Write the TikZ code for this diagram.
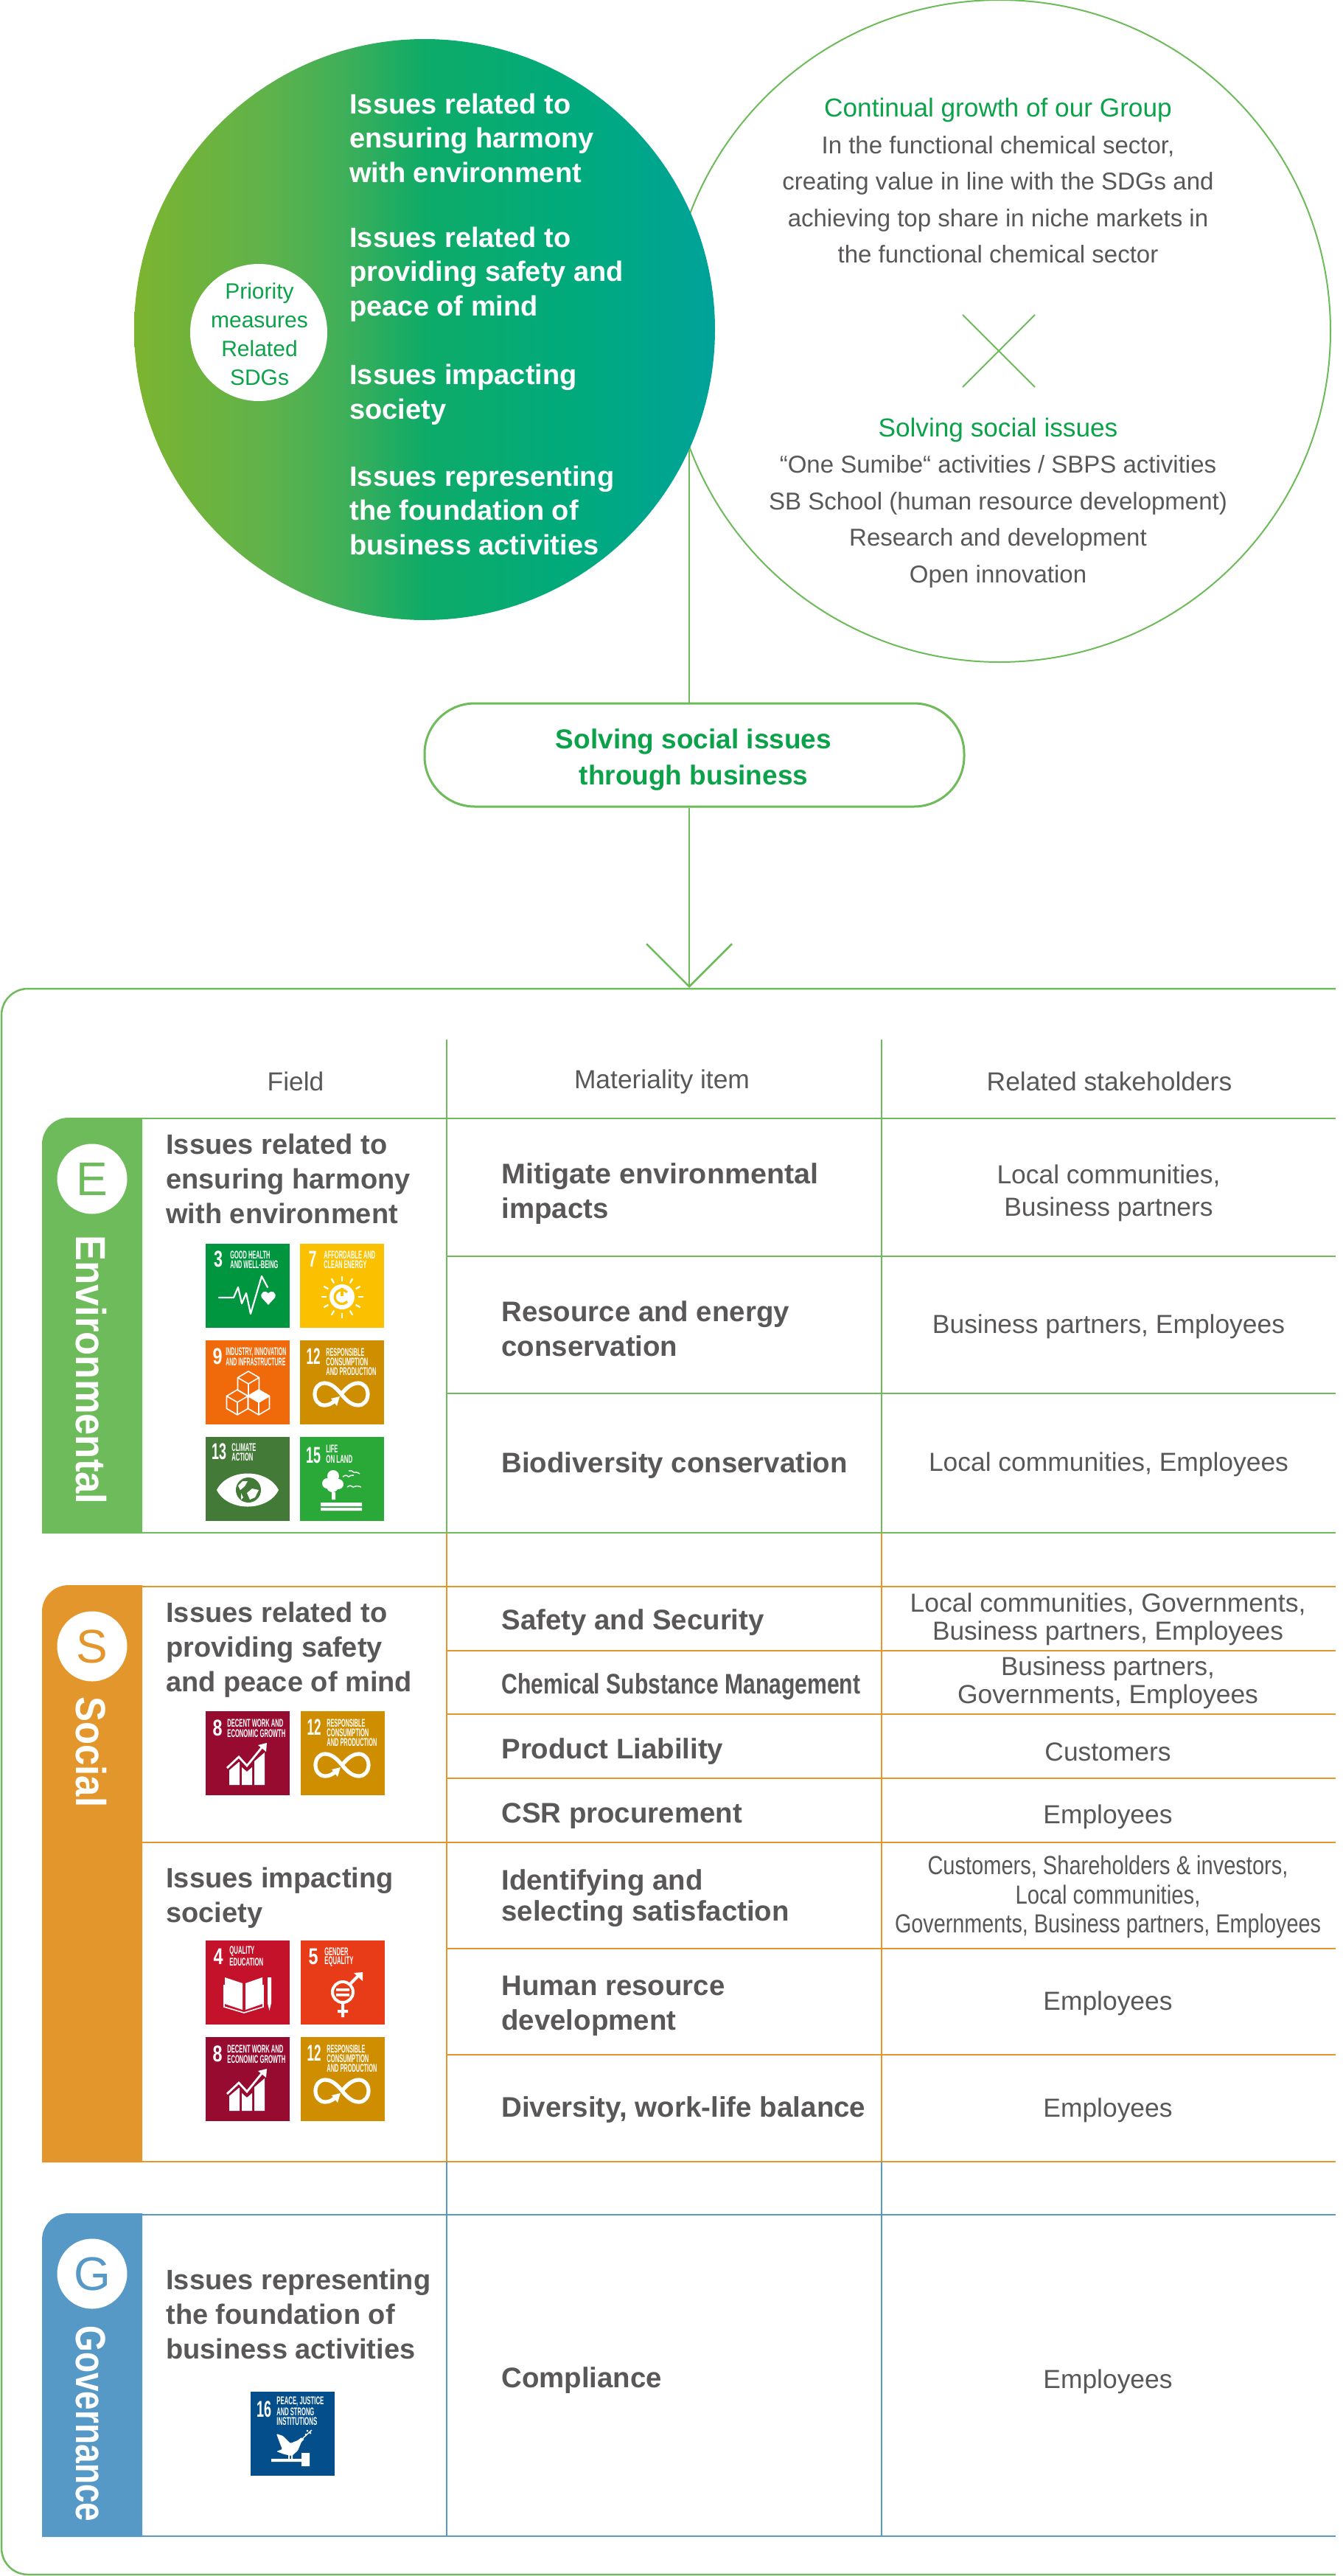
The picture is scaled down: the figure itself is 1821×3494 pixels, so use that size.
\documentclass[tikz,border=0pt]{standalone}
\usepackage{fontspec}
\usepackage{graphicx}
\setmainfont{Liberation Sans}
\usetikzlibrary{arrows.meta}
\definecolor{lgreen}{HTML}{6DBB5A}
\definecolor{tgreen}{HTML}{0BA24A}
\definecolor{gorange}{HTML}{E3962C}
\definecolor{gblue}{HTML}{5698C6}
\definecolor{tgray}{HTML}{595757}
\definecolor{sThree}{HTML}{00963F}
\definecolor{sSeven}{HTML}{FBC100}
\definecolor{sNine}{HTML}{F0690A}
\definecolor{sTwelve}{HTML}{CF8D00}
\definecolor{sThirteen}{HTML}{437A37}
\definecolor{sFifteen}{HTML}{2AA838}
\definecolor{sEight}{HTML}{970B31}
\definecolor{sFour}{HTML}{C5122B}
\definecolor{sFive}{HTML}{E83C18}
\definecolor{sSixteen}{HTML}{044F8B}
\pgfdeclarehorizontalshading{priorshade}{100bp}{rgb(0bp)=(.486,.706,.184); rgb(25bp)=(.486,.706,.184); rgb(36.5bp)=(.373,.698,.294); rgb(43bp)=(.247,.686,.349); rgb(50bp)=(.055,.671,.408); rgb(63.5bp)=(0,.667,.490); rgb(75bp)=(0,.635,.604); rgb(100bp)=(0,.635,.604)}
% width-fitted text: #1 is the width in reference pixels
\newcommand{\fw}[2]{\resizebox{\dimexpr #1pt/2\relax}{\height}{#2}}
\newcount\sdgcount
\newcommand{\sdgtxt}[4]{\global\advance\sdgcount by 1 \node[sdgtext] (sdgt\the\sdgcount) at (#1,#2) {\fw{#3}{#4}};}
\newcommand{\sdgnum}[4]{\global\advance\sdgcount by 1 \node[sdgnumber] (sdgn\the\sdgcount) at (#1,#2) {\fw{#3}{#4}};}
\newcommand{\sdgbox}[4]{\begin{scope}[shift={(#1,#2)}]\fill[#3] (0,0) rectangle (114,114); #4\end{scope}}
\newcommand{\iconThree}{%
 \sdgnum{17}{21}{12}{3}\sdgtxt{33}{15}{54}{GOOD HEALTH}\sdgtxt{33}{28}{65}{AND WELL-BEING}%
 \draw[iconline] (18,73) -- (38,73) -- (44,59) -- (49,81) -- (55,67) -- (61,95) -- (76,44) -- (84,59);
 \fill[white] (85,83) -- (76,73) .. controls (73,66) and (81,62) .. (85,67) .. controls (89,62) and (97,66) .. (94,73) -- cycle;}
\newcommand{\iconSeven}{%
 \sdgnum{17}{21}{11}{7}\sdgtxt{32}{15}{70}{AFFORDABLE AND}\sdgtxt{32}{28}{58}{CLEAN ENERGY}%
 \fill[white] (57,72) circle[radius=17];
 \draw[line width=1.6pt,sSeven] (64,66) arc[start angle=-40,end angle=-320,radius=9.5];
 \draw[line width=1.6pt,sSeven] (57,60) -- (57,71);
 \foreach \a in {0,30,...,330}{\draw[iconline,line cap=butt] (57,72) ++(\a:21.5) -- ++(\a:7);}}
\newcommand{\cube}[2]{\begin{scope}[shift={(#1,#2)}]
 \draw[line width=.8pt,white,line join=round] (0,-17) -- (14.5,-8.5) -- (14.5,8.5) -- (0,17) -- (-14.5,8.5) -- (-14.5,-8.5) -- cycle
 (-14.5,-8.5) -- (0,0) -- (14.5,-8.5) (0,0) -- (0,17);\end{scope}}
\newcommand{\iconNine}{%
 \sdgnum{16}{22}{13}{9}\sdgtxt{27}{16}{82}{INDUSTRY, INNOVATION}\sdgtxt{27}{29}{81}{AND INFRASTRUCTURE}%
 \cube{58}{59}\cube{43}{84}\cube{72}{84}
 \fill[white] (72,67) -- (86.5,75.5) -- (72,84) -- (57.5,75.5) -- cycle;}
\newcommand{\iconTwelve}{%
 \sdgnum{18}{22}{19}{12}\sdgtxt{35}{16}{52}{RESPONSIBLE}\sdgtxt{35}{29}{57}{CONSUMPTION}\sdgtxt{35}{42}{68}{AND PRODUCTION}%
 \draw[line width=2.6pt,white] (46,83) .. controls (41,87) and (37,88) .. (33,88) .. controls (25,88) and (20,81) .. (20,73) .. controls (20,65) and (25,58) .. (33,58) .. controls (41,58) and (48,63) .. (56,73) .. controls (64,83) and (71,88) .. (79,88) .. controls (87,88) and (92,81) .. (92,73) .. controls (92,65) and (87,58) .. (79,58) .. controls (71,58) and (64,63) .. (56,73);
 \fill[white] (42,79) -- (54,76) -- (50,89) -- cycle;}
\newcommand{\iconThirteen}{%
 \sdgnum{18}{20}{20}{13}\sdgtxt{35}{14}{33}{CLIMATE}\sdgtxt{35}{27}{29}{ACTION}%
 \fill[white] (15,72) .. controls (30,42) and (84,42) .. (99,72) .. controls (84,102) and (30,102) .. (15,72) -- cycle;
 \fill[sThirteen] (58,72) circle[radius=17];
 \fill[white] (44,66) -- (50,60) -- (57,60) -- (53,67) -- (47,72) -- cycle (56,76) -- (63,70) -- (72,72) -- (67,82) -- (60,85) -- cycle (48,76) -- (51,82) -- (48,85) -- cycle;}
\newcommand{\iconFifteen}{%
 \sdgnum{18}{25}{20}{15}\sdgtxt{35}{16}{16}{LIFE}\sdgtxt{35}{30}{36}{ON LAND}%
 \fill[white] (37,63) circle[radius=7] (45,53) circle[radius=8] (52,64) circle[radius=7] (44,67) circle[radius=8] (43,75) rectangle (48,85) (28,89) rectangle (84,94) (28,96) rectangle (84,100);
 \draw[line width=.7pt,white] (58,54) .. controls (62,51) and (64,52) .. (66,54) .. controls (68,52) and (70,52) .. (73,52) (66,46) .. controls (69,45) and (71,46) .. (73,48) .. controls (75,47) and (78,48) .. (81,50) (64,68) .. controls (68,65) and (70,66) .. (72,68) .. controls (75,66) and (78,66) .. (83,68);}
\newcommand{\iconEight}{%
 \sdgnum{16}{23}{13}{8}\sdgtxt{29}{16}{76}{DECENT WORK AND}\sdgtxt{29}{30}{79}{ECONOMIC GROWTH}%
 \fill[white] (32,100) -- (32,80) -- (45,69) -- (46,69) -- (46,100) -- cycle (49,100) -- (49,76) -- (56,82) -- (63,76) -- (63,100) -- cycle (66,100) -- (66,68) -- (80,56) -- (80,100) -- cycle;
 \draw[line width=1.4pt,white] (29,77) -- (45,62) -- (56,74) -- (78,47);
 \fill[white] (71,46) -- (83,43) -- (82,55) -- cycle;}
\newcommand{\iconFour}{%
 \sdgnum{17}{22}{13}{4}\sdgtxt{32}{15}{34}{QUALITY}\sdgtxt{32}{29}{46}{EDUCATION}%
 \fill[white] (26,50) -- (50,58) -- (50,94) -- (26,86) -- cycle (54,58) -- (77,50) -- (77,86) -- (54,94) -- cycle (84,50) -- (89,50) -- (89,85) -- (86.5,95) -- (84,85) -- cycle;
 \draw[line width=.8pt,white] (25,60) -- (25,90) -- (52,98) -- (78,90) -- (78,60);}
\newcommand{\iconFive}{%
 \sdgnum{17}{22}{13}{5}\sdgtxt{32}{15}{32}{GENDER}\sdgtxt{32}{29}{39}{EQUALITY}%
 \draw[line width=2pt,white] (57,70) circle[radius=14] (57,84) -- (57,104) (50,96) -- (64,96) (66,60) -- (79,47);
 \fill[white] (72,44) -- (84,43) -- (84,55) -- cycle (48,65) rectangle (66,68.5) (48,72) rectangle (66,75.5);}
\newcommand{\iconSixteen}{%
 \sdgnum{18}{24}{20}{16}\sdgtxt{35}{13}{64}{PEACE, JUSTICE}\sdgtxt{35}{27}{51}{AND STRONG}\sdgtxt{35}{40}{55}{INSTITUTIONS}%
 \fill[white,rounded corners=.6pt] (35,57) -- (44,60) -- (54,70) -- (64,66) -- (69,62) -- (73,64) -- (69,68) -- (64,80) -- (56,87) -- (46,85) -- (35,81) -- (43,78) -- (39,68) -- cycle;
 \draw[line width=.7pt,white] (71,63) -- (83,52);
 \fill[white] (77,53) circle[radius=1.5] (81,56) circle[radius=1.5] (75,58) circle[radius=1.5];
 \fill[white] (28,91) rectangle (70,95) (51,86) rectangle (53,91) (55,86) rectangle (57,91) (69,83) rectangle (80,101);}
\tikzset{
 x=.5pt,y=-.5pt,
 sdgtext/.style={inner sep=0pt,anchor=west,text=white,font=\bfseries\fontsize{7.6}{8}\selectfont},
 sdgnumber/.style={inner sep=0pt,anchor=center,text=white,font=\bfseries\fontsize{15.5}{16}\selectfont},
 iconline/.style={line width=1.1pt,white,line join=round,line cap=round},
 bigline/.style={line width=1.25pt,draw=lgreen},
 whitehead/.style={inner sep=0pt,anchor=west,align=left,text=white,font=\bfseries\fontsize{19}{23.25}\selectfont},
 incircle/.style={inner sep=0pt,anchor=center,align=center,text=tgray,font=\fontsize{16.5}{24.75}\selectfont},
 prio/.style={inner sep=0pt,anchor=center,align=center,text=tgreen,font=\fontsize{15}{19.5}\selectfont},
 pilltext/.style={inner sep=0pt,anchor=center,align=center,text=tgreen,font=\bfseries\fontsize{18.5}{24.5}\selectfont},
 headcell/.style={inner sep=0pt,anchor=center,yshift=-1.5pt,text=tgray,font=\fontsize{17.7}{20}\selectfont},
 fieldcell/.style={inner sep=0pt,anchor=west,align=left,text=tgray,font=\bfseries\fontsize{19}{23.5}\selectfont},
 itemcell/.style={inner sep=0pt,anchor=west,align=left,yshift=-2pt,text=tgray,font=\bfseries\fontsize{19.2}{23.4}\selectfont},
 holdercell/.style={inner sep=0pt,anchor=center,align=center,yshift=-1pt,text=tgray,font=\fontsize{17.7}{19}\selectfont},
 bandtitle/.style={inner sep=0pt,anchor=base west,rotate=-90,text=white,font=\bfseries\fontsize{28.5}{30}\selectfont},
 bandletter/.style={circle,fill=white,minimum size=47.5pt,inner sep=0pt,font=\fontsize{32}{34}\selectfont},
 gridline/.style={line width=1.25pt},
}
\begin{document}
\begin{tikzpicture}
\useasboundingbox (0,0) rectangle (1821,3494);
\fill[white] (0,0) rectangle (1821,3494);
% top circles
\node[circle,draw=lgreen,line width=1pt,fill=white,minimum size=449pt,inner sep=0pt] (growth) at (1356,449) {};
\node[circle,shading=priorshade,minimum size=394pt,inner sep=0pt] (priority) at (576,447) {};
\node[circle,fill=white,minimum size=93pt,inner sep=0pt] (hub) at (351,451) {};
\node[prio] (hubtext) at (352,453) {Priority\\measures\\Related\\SDGs};
\node[whitehead] (p1) at (474,187) {Issues related to\\ensuring harmony\\with environment};
\node[whitehead] (p2) at (474,372) {Issues related to\\providing safety and\\peace of mind};
\node[whitehead] (p3) at (474,535) {Issues impacting\\society};
\node[whitehead] (p4) at (474,692) {Issues representing\\the foundation of\\business activities};
\node[incircle] (g1) at (1354,245) {\textcolor{tgreen}{\fontsize{17.6}{24.75}\selectfont Continual growth of our Group}\\In the functional chemical sector,\\creating value in line with the SDGs and\\achieving top share in niche markets in\\the functional chemical sector};
\coordinate (xa) at (1306,427); \coordinate (xb) at (1404,525);
\coordinate (xc) at (1404,427); \coordinate (xd) at (1306,525);
\draw[lgreen,line width=1pt] (xa) -- (xb) (xc) -- (xd);
\node[incircle] (g2) at (1354,682) {\textcolor{tgreen}{\fontsize{17.6}{24.75}\selectfont Solving social issues}\\“One Sumibe“ activities / SBPS activities\\SB School (human resource development)\\Research and development\\Open innovation};
% pill and connectors
\node[draw=lgreen,line width=1.5pt,fill=white,rounded corners=34pt,minimum width=366pt,minimum height=70pt,inner sep=0pt] (pill) at (942,1024) {};
\node[pilltext] (pilltxt) at (941,1031) {Solving social issues\\through business};
\coordinate (join) at (935,610);
\coordinate (tip) at (935,1340);
\draw[bigline] (join) -- (join |- pill.north);
\draw[bigline,-{Straight Barb[length=29pt,width=58pt,line width=1.25pt]}] (tip |- pill.south) -- (tip);
% outer frame
\coordinate (fa) at (1812,1341); \coordinate (fb) at (1812,3492);
\draw[bigline] (fa) -- (38,1341) .. controls (18,1341) and (2,1357) .. (2,1377) -- (2,3456) .. controls (2,3476) and (18,3492) .. (38,3492) -- (fb);
% bands
\fill[lgreen] (193,2080) -- (57,2080) -- (57,1552) .. controls (57,1532) and (73,1516) .. (93,1516) -- (193,1516) -- cycle;
\fill[gorange] (193,2933) -- (57,2933) -- (57,2186) .. controls (57,2166) and (73,2150) .. (93,2150) -- (193,2150) -- cycle;
\fill[gblue] (193,3441) -- (57,3441) -- (57,3038) .. controls (57,3018) and (73,3002) .. (93,3002) -- (193,3002) -- cycle;
% grid
\draw[gridline,lgreen] (606,1410) -- (606,2079) (1196,1410) -- (1196,2079)
 (193,1517) -- (1812,1517) (606,1704) -- (1812,1704) (606,1890) -- (1812,1890) (57,2079) -- (1812,2079);
\draw[gridline,gorange] (606,2079) -- (606,2932) (1196,2079) -- (1196,2932)
 (193,2152) -- (1812,2152) (606,2239) -- (1812,2239) (606,2325) -- (1812,2325) (606,2412) -- (1812,2412)
 (193,2499) -- (1812,2499) (606,2643) -- (1812,2643) (606,2787) -- (1812,2787) (57,2932) -- (1812,2932);
\draw[gridline,gblue] (606,2932) -- (606,3440) (1196,2932) -- (1196,3440)
 (193,3004) -- (1812,3004) (57,3440) -- (1812,3440);
% band labels
\node[bandletter,text=lgreen] (eb) at (125,1599) {E};
\node[bandletter,text=gorange] (sb) at (125,2233) {S};
\node[bandletter,text=gblue] (gb) at (125,3084) {G};
\node[bandtitle] (envt) at (103,1675) {\fw{365}{Environmental}};
\node[bandtitle] (soct) at (103,2301) {\fw{150}{Social}};
\node[bandtitle] (govt) at (103,3154) {\fw{266}{Governance}};
% headers
\node[headcell] (h1) at (401,1464) {Field};
\node[headcell] (h2) at (898,1464) {Materiality item};
\node[headcell] (h3) at (1505,1464) {Related stakeholders};
% field text
\node[fieldcell] (f1) at (225,1599) {Issues related to\\ensuring harmony\\with environment};
\node[fieldcell] (f2) at (225,2238) {Issues related to\\providing safety\\and peace of mind};
\node[fieldcell] (f3) at (225,2574) {Issues impacting\\society};
\node[fieldcell] (f4) at (225,3139) {Issues representing\\the foundation of\\business activities};
% SDG icons
\sdgbox{279}{1687}{sThree}{\iconThree}
\sdgbox{407}{1687}{sSeven}{\iconSeven}
\sdgbox{279}{1818}{sNine}{\iconNine}
\sdgbox{407}{1818}{sTwelve}{\iconTwelve}
\sdgbox{279}{1949}{sThirteen}{\iconThirteen}
\sdgbox{407}{1949}{sFifteen}{\iconFifteen}
\sdgbox{279}{2321}{sEight}{\iconEight}
\sdgbox{408}{2321}{sTwelve}{\iconTwelve}
\sdgbox{279}{2632}{sFour}{\iconFour}
\sdgbox{408}{2632}{sFive}{\iconFive}
\sdgbox{279}{2763}{sEight}{\iconEight}
\sdgbox{408}{2763}{sTwelve}{\iconTwelve}
\sdgbox{340}{3244}{sSixteen}{\iconSixteen}
% materiality items
\node[itemcell] (m1) at (680,1615) {\fw{430}{Mitigate environmental}\\impacts};
\node[itemcell] (m2) at (680,1798) {Resource and energy\\conservation};
\node[itemcell] (m3) at (680,1984) {Biodiversity conservation};
\node[itemcell] (m4) at (680,2197) {Safety and Security};
\node[itemcell] (m5) at (680,2284) {\fw{487}{Chemical Substance Management}};
\node[itemcell] (m6) at (680,2372) {Product Liability};
\node[itemcell] (m7) at (680,2459) {CSR procurement};
\node[itemcell] (m8) at (680,2571) {Identifying and\\[-2.4pt]selecting satisfaction};
\node[itemcell] (m9) at (680,2717) {Human resource\\development};
\node[itemcell] (m10) at (680,2858) {\fw{494}{Diversity, work-life balance}};
\node[itemcell] (m11) at (680,3225) {Compliance};
% stakeholders
\node[holdercell] (s1) at (1504,1616) {Local communities,\\[3pt]Business partners};
\node[holdercell] (s2) at (1504,1797) {Business partners, Employees};
\node[holdercell] (s3) at (1504,1984) {Local communities, Employees};
\node[holdercell] (s4) at (1503,2194) {\fw{537}{Local communities, Governments,}\\\fw{476}{Business partners, Employees}};
\node[holdercell] (s5) at (1503,2280) {\fw{290}{Business partners,}\\\fw{408}{Governments, Employees}};
\node[holdercell] (s6) at (1503,2374) {Customers};
\node[holdercell] (s7) at (1503,2462) {Employees};
\node[holdercell] (s8) at (1503,2571) {\fw{489}{Customers, Shareholders \& investors,}\\[.75pt]\fw{251}{Local communities,}\\[.75pt]\fw{578}{Governments, Business partners, Employees}};
\node[holdercell] (s9) at (1503,2715) {Employees};
\node[holdercell] (s10) at (1503,2860) {Employees};
\node[holdercell] (s11) at (1503,3228) {Employees};
\end{tikzpicture}
\end{document}
